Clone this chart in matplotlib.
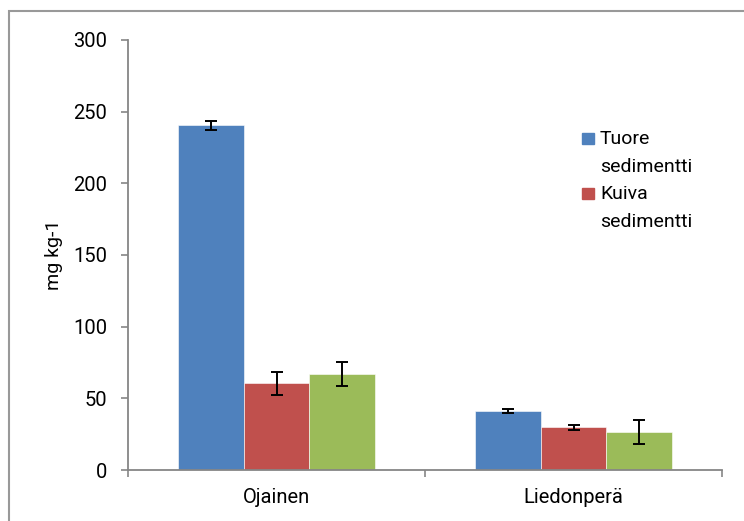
import numpy as np
import matplotlib.pyplot as plt
from matplotlib.patches import Rectangle

# Data
sites = ["Ojainen", "Liedonperä"]
series_names = ["Tuore\nsedimentti", "Kuiva\nsedimentti", ""]
tuore = [240.5, 41.4]
kuiva = [60.5, 29.8]
third = [66.8, 26.3]
tuore_err = [3.0, 1.4]
kuiva_err = [8.2, 1.9]
third_err = [8.3, 8.4]

values = [tuore, kuiva, third]
errors = [tuore_err, kuiva_err, third_err]
colors = ["#4F81BD", "#C0504D", "#9BBB59"]
axis_gray = "#868686"

plt.rcParams['font.family'] = ['Roboto', 'DejaVu Sans']

W, H = 744, 521
fig = plt.figure(figsize=(W / 100, H / 100), dpi=100)
ax = fig.add_axes([128 / W, 51 / H, 594 / W, 430 / H])

x = np.arange(len(sites))
width = 0.222
for i, (vals, errs) in enumerate(zip(values, errors)):
    ax.bar(x + (i - 1) * width, vals, width, color=colors[i],
           edgecolor="white", linewidth=0.4, zorder=2)
    ax.errorbar(x + (i - 1) * width, vals, yerr=errs, fmt="none",
                ecolor="black", elinewidth=1.4, capsize=4.5,
                capthick=1.4, zorder=3)

ax.set_xlim(-0.5, 1.5)
ax.set_ylim(0, 300)
ax.set_yticks(np.arange(0, 301, 50))
ax.set_xticks([-0.5, 0.5, 1.5], minor=False)
ax.set_xticklabels([])
ax.set_xticks(x, minor=True)
ax.set_xticklabels(sites, minor=True, fontsize=14.5)
ax.tick_params(axis="x", which="minor", length=0, pad=13)
ax.tick_params(axis="x", which="major", length=5, color=axis_gray, width=1.2)
ax.tick_params(axis="y", length=5, color=axis_gray, width=1.2,
               labelsize=14.5, pad=10)

for side in ["top", "right"]:
    ax.spines[side].set_visible(False)
for side in ["left", "bottom"]:
    ax.spines[side].set_color(axis_gray)
    ax.spines[side].set_linewidth(1.3)

ax.set_ylabel("mg kg-1", fontsize=14, labelpad=7)

# legend (only the first two series are listed in the original)
legend_tops = [133, 188]        # pixel row of each legend square top
for i, (name, top) in enumerate(zip(series_names[:2], legend_tops)):
    fig.patches.append(Rectangle((582 / W, 1 - (top + 11) / H), 12 / W, 11 / H,
                                 transform=fig.transFigure, color=colors[i]))
    for j, line in enumerate(name.split("\n")):
        baseline = top + 11 + j * 28
        fig.text(600 / W, 1 - baseline / H, line, fontsize=14,
                 va="baseline", ha="left")

# outer chart border
fig.patches.append(Rectangle((9 / W, -0.1), 1.2, 1.1 - 11 / H,
                             transform=fig.transFigure, fill=False,
                             edgecolor="#999999", linewidth=1.5))

fig.savefig("out.png", dpi=100)
